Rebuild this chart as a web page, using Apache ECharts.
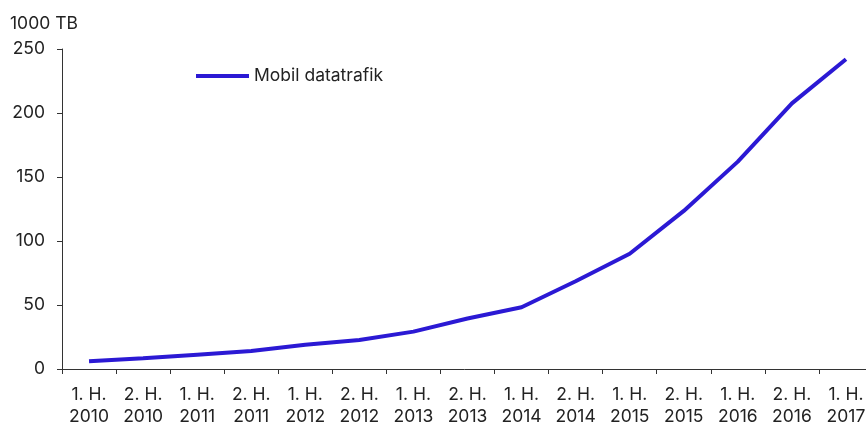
<!DOCTYPE html>
<html>
<head>
<meta charset="utf-8">
<script src="https://cdn.jsdelivr.net/npm/echarts@6/dist/echarts.min.js"></script>
<style>
html,body{margin:0;padding:0;background:#fff;}
#c{width:866px;height:423px;}
</style>
</head>
<body>
<div id="c"></div>
<script>
const categories = ["1. H.\n2010","2. H.\n2010","1. H.\n2011","2. H.\n2011","1. H.\n2012","2. H.\n2012","1. H.\n2013","2. H.\n2013","1. H.\n2014","2. H.\n2014","1. H.\n2015","2. H.\n2015","1. H.\n2016","2. H.\n2016","1. H.\n2017"];
const trafficValues = [6.0, 8.4, 11.2, 14.0, 19.0, 22.7, 29.2, 39.5, 48.2, 68.5, 90, 123.5, 162, 207.5, 242];
const seriesName = "Mobil datatrafik";
const unitLabel = "1000 TB";

const FONT = "Inter, Roboto, 'Noto Sans', sans-serif";
const LINE_COLOR = '#2b19d4';
const chart = echarts.init(document.getElementById('c'), null, {renderer:'canvas'});
chart.setOption({
  animation:false,
  backgroundColor:'#fff',
  title:{text:unitLabel,left:5,top:10,textStyle:{fontFamily:FONT,fontSize:17.5,fontWeight:'normal',color:'#222'}},
  legend:{left:196,top:67,padding:0,itemWidth:53,itemHeight:4,itemGap:10,
    textStyle:{fontFamily:FONT,fontSize:17.5,color:'#222'},
    data:[{name:seriesName,icon:'rect',itemStyle:{color:LINE_COLOR}}]},
  grid:{left:62,top:49,bottom:54,width:811,containLabel:false,outerBoundsMode:'none'},
  xAxis:{type:'category',data:categories,boundaryGap:true,
    axisLine:{lineStyle:{color:'#333',width:1}},
    axisTick:{show:true,length:5,alignWithLabel:false,lineStyle:{color:'#333'}},
    axisLabel:{interval:0,margin:15,fontFamily:FONT,fontSize:17.5,color:'#222',lineHeight:22},
    splitLine:{show:false}},
  yAxis:{type:'value',min:0,max:250,interval:50,
    axisLine:{show:true,lineStyle:{color:'#333',width:1}},
    axisTick:{show:true,length:5,lineStyle:{color:'#333'}},
    axisLabel:{margin:17,fontFamily:FONT,fontSize:17.5,color:'#222'},
    splitLine:{show:false}},
  series:[{name:seriesName,type:'line',data:trafficValues,symbol:'none',
    lineStyle:{color:LINE_COLOR,width:4},itemStyle:{color:LINE_COLOR}}]
});
</script>
</body>
</html>
